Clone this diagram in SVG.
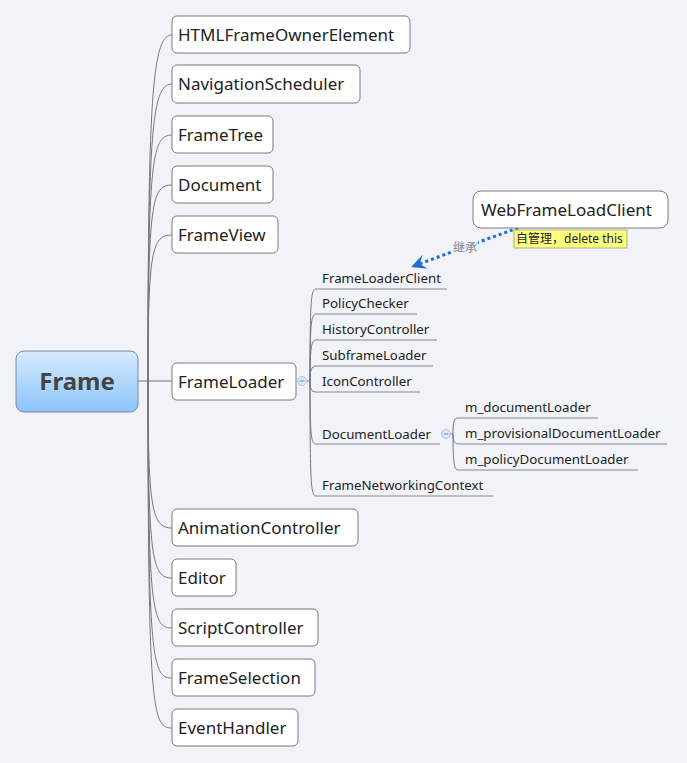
<svg xmlns="http://www.w3.org/2000/svg" width="687" height="763" viewBox="0 0 687 763">
<defs>
<linearGradient id="g" x1="0" y1="0" x2="0" y2="1"><stop offset="0" stop-color="#d6ebff"/><stop offset="1" stop-color="#8cc4fb"/></linearGradient>
<marker id="ar" viewBox="0 0 10 10" refX="8" refY="5" markerWidth="5" markerHeight="5" orient="auto"><path d="M0,0 L10,5 L0,10 L4,5 z" fill="#1a6fd6"/></marker>
<style>
.b{fill:#fff;stroke:#7a7a7a;stroke-width:1}
.t{font-family:"Noto Sans","Open Sans",sans-serif;font-size:17px;fill:#222}
.s{font-family:"Noto Sans","Open Sans",sans-serif;font-size:13.3px;fill:#222}
.c{fill:none;stroke:#777;stroke-width:1}
.u{stroke:#888;stroke-width:1}
.k{fill:#dce8fb;stroke:#a8c4ee}
</style>
</defs>
<rect width="687" height="763" fill="#f2f3f8"/>
<g id="connectors">
<path class="c" d="M138,381 H148"/>
<path class="c" d="M148,381 C148,100 152,35 172,35"/>
<path class="c" d="M148,381 C148,130 152,84 172,84"/>
<path class="c" d="M148,381 C148,160 152,135 172,135"/>
<path class="c" d="M148,381 C148,200 152,185 172,185"/>
<path class="c" d="M148,381 C148,250 152,235 172,235"/>
<path class="c" d="M148,381 H172"/>
<path class="c" d="M148,381 C148,510 152,528 172,528"/>
<path class="c" d="M148,381 C148,560 152,578 172,578"/>
<path class="c" d="M148,381 C148,610 152,628 172,628"/>
<path class="c" d="M148,381 C148,660 152,678 172,678"/>
<path class="c" d="M148,381 C148,710 152,728 172,728"/>
<path class="c" d="M307,381 H310"/>
<path class="c" d="M310,381 C310,300 311,289 316,289"/>
<path class="c" d="M310,381 C310,325 311,314 316,314"/>
<path class="c" d="M310,381 C310,350 311,340 316,340"/>
<path class="c" d="M310,381 C310,372 311,366 316,366"/>
<path class="c" d="M310,381 C310,388 311,392 316,392"/>
<path class="c" d="M310,381 C310,435 311,444 316,444"/>
<path class="c" d="M310,381 C310,485 311,496 316,496"/>
<path class="c" d="M451,434 H453"/>
<path class="c" d="M453,434 C453,422 454,418 458,418"/>
<path class="c" d="M453,434 C453,440 454,444 458,444"/>
<path class="c" d="M453,434 C453,462 454,470 458,470"/>
<line class="u" x1="316" y1="289" x2="447" y2="289"/>
<line class="u" x1="316" y1="314" x2="417" y2="314"/>
<line class="u" x1="316" y1="340" x2="437" y2="340"/>
<line class="u" x1="316" y1="366" x2="433" y2="366"/>
<line class="u" x1="316" y1="392" x2="420" y2="392"/>
<line class="u" x1="316" y1="444" x2="440" y2="444"/>
<line class="u" x1="316" y1="496" x2="493" y2="496"/>
<line class="u" x1="458" y1="418" x2="598" y2="418"/>
<line class="u" x1="458" y1="444" x2="667" y2="444"/>
<line class="u" x1="458" y1="470" x2="638" y2="470"/>
<path d="M518,228 Q470,245 414,266" fill="none" stroke="#1a6fd6" stroke-width="3" stroke-dasharray="3 3" marker-end="url(#ar)"/>
<rect x="452" y="240" width="26" height="15" fill="#f2f3f8" opacity="0.85"/>
<text x="465" y="252" text-anchor="middle" font-family="Noto Sans CJK SC,sans-serif" font-size="12" fill="#888">继承</text>
</g>
<g id="Frame"><rect x="16" y="351" width="122" height="61" rx="8" fill="url(#g)" stroke="#7a8aa0"/><text x="77" y="390" text-anchor="middle" font-family="Noto Sans,sans-serif" font-size="24" font-weight="bold" fill="#444">Frame</text></g>
<g id="n1"><rect class="b" x="172" y="16" width="238" height="37" rx="5"/><text class="t" x="178" y="41">HTMLFrameOwnerElement</text></g>
<g id="n2"><rect class="b" x="172" y="65" width="188" height="38" rx="5"/><text class="t" x="178" y="90">NavigationScheduler</text></g>
<g id="n3"><rect class="b" x="172" y="116" width="101" height="37" rx="5"/><text class="t" x="178" y="141">FrameTree</text></g>
<g id="n4"><rect class="b" x="172" y="166" width="101" height="37" rx="5"/><text class="t" x="178" y="191">Document</text></g>
<g id="n5"><rect class="b" x="172" y="216" width="106" height="37" rx="5"/><text class="t" x="178" y="241">FrameView</text></g>
<g id="n6"><rect class="b" x="172" y="363" width="124" height="37" rx="5"/><text class="t" x="178" y="388">FrameLoader</text><circle class="k" cx="302" cy="381" r="4.5"/><line x1="299.5" y1="381" x2="304.5" y2="381" stroke="#6b8fd0"/></g>
<g id="n7"><rect class="b" x="172" y="509" width="186" height="37" rx="5"/><text class="t" x="178" y="534">AnimationController</text></g>
<g id="n8"><rect class="b" x="172" y="559" width="64" height="37" rx="5"/><text class="t" x="178" y="584">Editor</text></g>
<g id="n9"><rect class="b" x="172" y="609" width="146" height="37" rx="5"/><text class="t" x="178" y="634">ScriptController</text></g>
<g id="n10"><rect class="b" x="172" y="659" width="143" height="37" rx="5"/><text class="t" x="178" y="684">FrameSelection</text></g>
<g id="n11"><rect class="b" x="172" y="709" width="126" height="37" rx="5"/><text class="t" x="178" y="734">EventHandler</text></g>
<g id="n12"><rect class="b" x="473" y="191" width="195" height="37" rx="8"/><text class="t" x="481" y="216">WebFrameLoadClient</text></g>
<g id="note"><rect x="514" y="230" width="113" height="18" fill="#ffff80" stroke="#b0b070"/><text x="516" y="243" font-family="Noto Sans,Noto Sans CJK SC,sans-serif" font-size="12" fill="#222">自管理，delete this</text></g>
<g id="sub">
<text class="s" x="322" y="283">FrameLoaderClient</text>
<text class="s" x="322" y="308">PolicyChecker</text>
<text class="s" x="322" y="334">HistoryController</text>
<text class="s" x="322" y="360">SubframeLoader</text>
<text class="s" x="322" y="386">IconController</text>
<text class="s" x="322" y="439">DocumentLoader</text>
<circle class="k" cx="446" cy="434" r="4.5"/><line x1="443.5" y1="434" x2="448.5" y2="434" stroke="#6b8fd0"/>
<text class="s" x="322" y="490">FrameNetworkingContext</text>
<text class="s" x="465" y="412">m_documentLoader</text>
<text class="s" x="465" y="438">m_provisionalDocumentLoader</text>
<text class="s" x="465" y="464">m_policyDocumentLoader</text>
</g>
</svg>
